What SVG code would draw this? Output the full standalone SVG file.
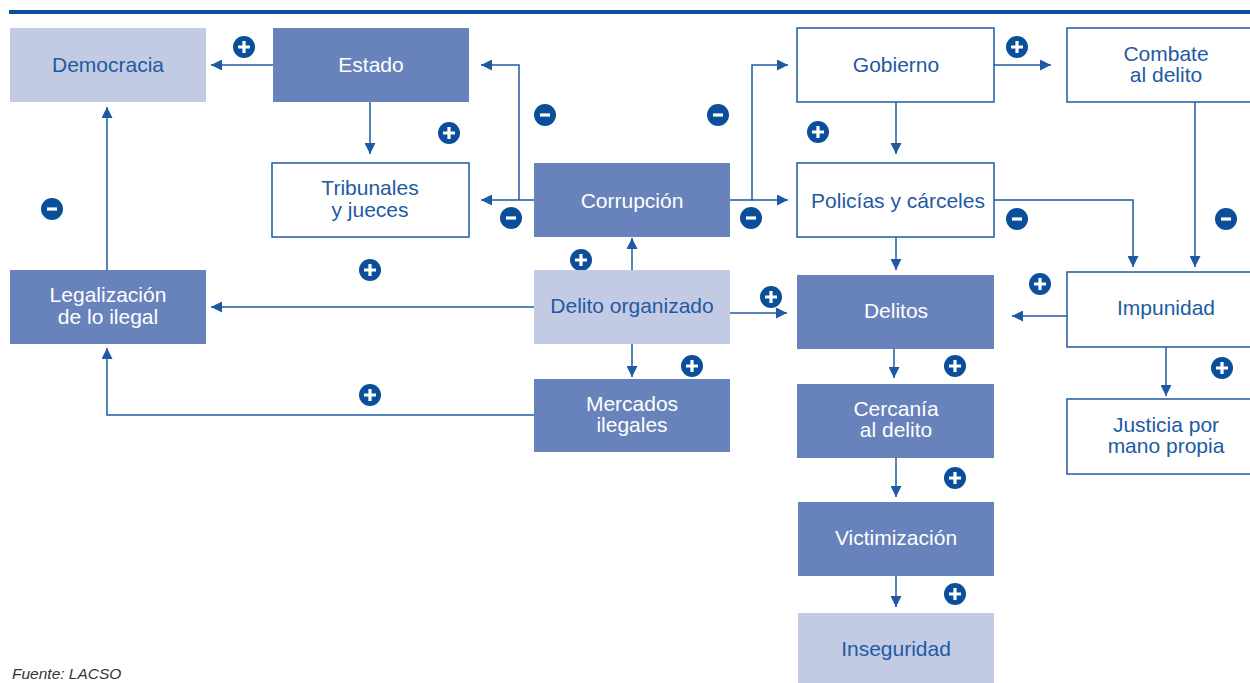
<svg xmlns="http://www.w3.org/2000/svg" width="1250" height="683" viewBox="0 0 1250 683">
<style>
.light{fill:#c3cbe4}
.dark{fill:#6882bb}
.white{fill:#fff;stroke:#1e5aa3;stroke-width:1.5}
.t{font-family:"Liberation Sans",Arial,sans-serif;font-size:21px;text-anchor:middle}
.tb{fill:#1e5aa3}
.tw{fill:#fff}
.ln{fill:none;stroke:#1e5aa3;stroke-width:1.5}
.badge{fill:#0b4f9a}
.sign{stroke:#fff;stroke-width:3.2;stroke-linecap:butt}
</style>
<defs>
<marker id="ah" viewBox="0 0 10 10" refX="10" refY="5" markerWidth="11" markerHeight="11" markerUnits="userSpaceOnUse" orient="auto">
<path d="M0,0 L10,5 L0,10 z" fill="#1e5aa3"/>
</marker>
<g id="plus"><circle r="11" class="badge"/><path class="sign" d="M-6,0 H6 M0,-6 V6"/></g>
<g id="minus"><circle r="11" class="badge"/><path class="sign" d="M-5,0 H5"/></g>
</defs>
<rect width="1250" height="683" fill="#fff"/>
<rect x="9" y="10" width="1241" height="4" fill="#0b4f9c"/>

<g id="connectors">
<path class="ln" marker-end="url(#ah)" d="M273,65 H211"/>
<path class="ln" marker-end="url(#ah)" d="M370,102 V154"/>
<path class="ln" marker-end="url(#ah)" d="M107,270 V107"/>
<path class="ln" marker-end="url(#ah)" d="M534,200 H481"/>
<path class="ln" marker-end="url(#ah)" d="M519,200 V65 H481"/>
<path class="ln" marker-end="url(#ah)" d="M730,200 H788"/>
<path class="ln" marker-end="url(#ah)" d="M752,200 V65 H788"/>
<path class="ln" marker-end="url(#ah)" d="M994,65 H1051"/>
<path class="ln" marker-end="url(#ah)" d="M896,102 V154"/>
<path class="ln" marker-end="url(#ah)" d="M994,200 H1133 V267"/>
<path class="ln" marker-end="url(#ah)" d="M1195,102 V267"/>
<path class="ln" marker-end="url(#ah)" d="M896,237 V270"/>
<path class="ln" marker-end="url(#ah)" d="M1067,316 H1012"/>
<path class="ln" marker-end="url(#ah)" d="M1166,347 V396"/>
<path class="ln" marker-end="url(#ah)" d="M894,349 V378"/>
<path class="ln" marker-end="url(#ah)" d="M896,458 V497"/>
<path class="ln" marker-end="url(#ah)" d="M896,576 V607"/>
<path class="ln" marker-end="url(#ah)" d="M534,307 H211"/>
<path class="ln" marker-end="url(#ah)" d="M534,415 H107 V348"/>
<path class="ln" marker-end="url(#ah)" d="M632,270 V238"/>
<path class="ln" marker-end="url(#ah)" d="M730,313 H787"/>
<path class="ln" marker-end="url(#ah)" d="M632,344 V377"/>
</g>

<g id="signs">
<use href="#plus" x="244" y="47"/>
<use href="#plus" x="449" y="133"/>
<use href="#minus" x="52" y="209"/>
<use href="#minus" x="545" y="115"/>
<use href="#minus" x="718" y="115"/>
<use href="#minus" x="511" y="218"/>
<use href="#minus" x="751" y="218"/>
<use href="#plus" x="1017" y="47"/>
<use href="#plus" x="818" y="132"/>
<use href="#minus" x="1017" y="219"/>
<use href="#minus" x="1226" y="219"/>
<use href="#plus" x="1040" y="284"/>
<use href="#plus" x="1222" y="368"/>
<use href="#plus" x="955" y="366"/>
<use href="#plus" x="955" y="478"/>
<use href="#plus" x="955" y="594"/>
<use href="#plus" x="370" y="270"/>
<use href="#plus" x="370" y="395"/>
<use href="#plus" x="581" y="260"/>
<use href="#plus" x="771" y="297"/>
<use href="#plus" x="692" y="366"/>
</g>

<g id="democracia"><rect class="light" x="10" y="28" width="196" height="74"/><text class="t tb" x="108" y="72">Democracia</text></g>
<g id="estado"><rect class="dark" x="273" y="28" width="196" height="74"/><text class="t tw" x="371" y="72">Estado</text></g>
<g id="tribunales"><rect class="white" x="272" y="163" width="197" height="74"/><text class="t tb" x="370" y="195">Tribunales</text><text class="t tb" x="370" y="217">y jueces</text></g>
<g id="corrupcion"><rect class="dark" x="534" y="163" width="196" height="74"/><text class="t tw" x="632" y="208">Corrupción</text></g>
<g id="gobierno"><rect class="white" x="797" y="28" width="197" height="74"/><text class="t tb" x="896" y="72">Gobierno</text></g>
<g id="combate"><rect class="white" x="1067" y="28" width="198" height="74"/><text class="t tb" x="1166" y="61">Combate</text><text class="t tb" x="1166" y="82">al delito</text></g>
<g id="policias"><rect class="white" x="797" y="163" width="197" height="74"/><text class="t tb" x="898" y="208">Policías y cárceles</text></g>
<g id="legalizacion"><rect class="dark" x="10" y="270" width="196" height="74"/><text class="t tw" x="108" y="302">Legalización</text><text class="t tw" x="108" y="324">de lo ilegal</text></g>
<g id="delito-organizado"><rect class="light" x="534" y="270" width="196" height="74"/><text class="t tb" x="632" y="313">Delito organizado</text></g>
<g id="mercados"><rect class="dark" x="534" y="379" width="196" height="73"/><text class="t tw" x="632" y="411">Mercados</text><text class="t tw" x="632" y="432">ilegales</text></g>
<g id="delitos"><rect class="dark" x="797" y="275" width="197" height="74"/><text class="t tw" x="896" y="318">Delitos</text></g>
<g id="impunidad"><rect class="white" x="1067" y="272" width="198" height="75"/><text class="t tb" x="1166" y="315">Impunidad</text></g>
<g id="justicia"><rect class="white" x="1067" y="399" width="198" height="75"/><text class="t tb" x="1166" y="432">Justicia por</text><text class="t tb" x="1166" y="453">mano propia</text></g>
<g id="cercania"><rect class="dark" x="797" y="384" width="197" height="74"/><text class="t tw" x="896" y="416">Cercanía</text><text class="t tw" x="896" y="437">al delito</text></g>
<g id="victimizacion"><rect class="dark" x="798" y="502" width="196" height="74"/><text class="t tw" x="896" y="545">Victimización</text></g>
<g id="inseguridad"><rect class="light" x="798" y="613" width="196" height="74"/><text class="t tb" x="896" y="656">Inseguridad</text></g>

<text x="12" y="679" font-family="Liberation Sans,Arial,sans-serif" font-size="15.5" font-style="italic" fill="#333">Fuente: LACSO</text>
</svg>
